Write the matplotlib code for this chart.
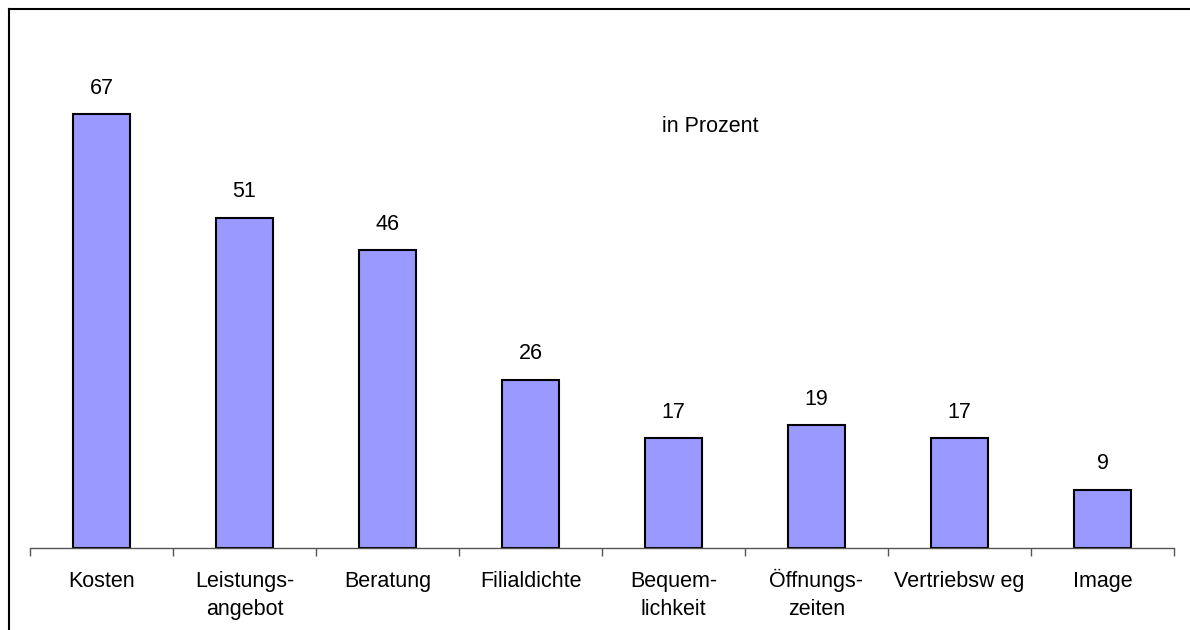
import numpy as np
import matplotlib.pyplot as plt
from matplotlib.lines import Line2D

kategorien = ['Kosten', 'Leistungs-\nangebot', 'Beratung', 'Filialdichte',
              'Bequem-\nlichkeit', 'Öffnungs-\nzeiten', 'Vertriebsw eg', 'Image']
werte = [67, 51, 46, 26, 17, 19, 17, 9]

plt.rcParams['font.family'] = ['Liberation Sans', 'DejaVu Sans']

fig = plt.figure(figsize=(11.9, 6.3), dpi=100)
ax = fig.add_axes([30 / 1190, 82 / 630, 1144 / 1190, 453.6 / 630])

x = np.arange(len(werte))
ax.bar(x, werte, width=0.4, color='#9999FF', edgecolor='black', linewidth=1.5)

for xi, w in zip(x, werte):
    ax.annotate(str(w), (xi, w), xytext=(0, 11), textcoords='offset points',
                ha='center', va='bottom', fontsize=15.5)

ax.set_xlim(-0.5, len(werte) - 0.5)
ax.set_ylim(0, 70)

# Achse: nur untere Linie mit Teilstrichen an den Kategoriegrenzen
for s in ['top', 'right', 'left']:
    ax.spines[s].set_visible(False)
ax.spines['bottom'].set_color('#555555')
ax.spines['bottom'].set_linewidth(1)
ax.set_yticks([])
ax.set_xticks(np.arange(len(werte) + 1) - 0.5)
ax.set_xticklabels([])
ax.tick_params(axis='x', length=6, width=1, color='#555555', direction='out')

# Kategorienamen, jede Zeile auf eigener Grundlinie
trans = ax.get_xaxis_transform()
for xi, name in zip(x, kategorien):
    for i, zeile in enumerate(name.split('\n')):
        y = -(38.7 + i * 28.5) / 453.6
        ax.text(xi, y, zeile, transform=trans, ha='center',
                va='baseline', fontsize=15.5)

ax.text(710 / 1190, 1 - 127 / 630, 'in Prozent', transform=fig.transFigure,
        ha='center', va='center', fontsize=15.5)

# Rahmen (nur links und oben sichtbar)
fig.add_artist(Line2D([8.5 / 1190, 8.5 / 1190], [0, 1 - 8.5 / 630],
                      transform=fig.transFigure, color='black', linewidth=1.5))
fig.add_artist(Line2D([8.5 / 1190, 1], [1 - 8.5 / 630, 1 - 8.5 / 630],
                      transform=fig.transFigure, color='black', linewidth=1.5))

fig.savefig('out.png', dpi=100)
